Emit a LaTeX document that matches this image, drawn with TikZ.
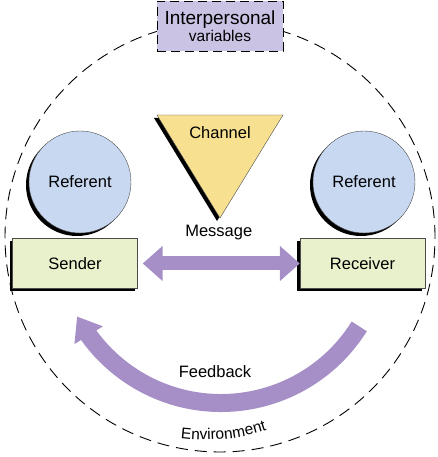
\documentclass[tikz,border=0pt]{standalone}
\usepackage{fontspec}
\setmainfont{Liberation Sans}
\usetikzlibrary{arrows.meta,bending,shadows,decorations.text}

\definecolor{lavender}{HTML}{CAC3E3}
\definecolor{arrowpurple}{HTML}{A68FC6}
\definecolor{referblue}{HTML}{C8D8F1}
\definecolor{partygreen}{HTML}{E8F0CC}
\definecolor{chanyellow}{HTML}{F7E191}

\begin{document}
\begin{tikzpicture}[x=1pt, y=1pt, font=\fontsize{16.5}{19}\selectfont,
  shad/.style={drop shadow={shadow xshift=-3pt, shadow yshift=-3pt, fill=black, opacity=1}},
  refer/.style={circle, shad, draw=black!70, fill=referblue, minimum size=102pt, inner sep=0pt},
  party/.style={rectangle, shad, draw=black!70, fill=partygreen, minimum width=125pt, minimum height=50pt, inner sep=0pt},
  wide/.style={draw=arrowpurple, line width=#1}]
  \useasboundingbox (0,0) rectangle (438,457);
  % environment
  \coordinate (envc) at (220,220);
  \draw[dash pattern=on 12pt off 7pt, line width=0.9pt] (envc) circle[radius=215];
  \node (interp) [draw, dash pattern=on 9pt off 5pt, fill=lavender, minimum width=126pt, minimum height=50pt, inner sep=0pt, align=center] at (220,431)
    {{\fontsize{19}{21}\selectfont Interpersonal}\\[-2pt]{\fontsize{15.5}{17}\selectfont variables}};
  % channel
  \draw[shad, draw=black!70, fill=chanyellow] (157,342) -- (283,342) -- (220,239) -- cycle;
  \node (chan) at (220,324) {Channel};
  % the two parties
  \node (sref) [refer] at (80,275) {Referent};
  \node (rref) [refer] at (364,275) {Referent};
  \node (send) [party] at (75,193.5) {Sender};
  \node (recv) [party] at (362.5,193.5) {Receiver};
  % message
  \draw[wide=14pt, {Triangle[width=34pt,length=20pt]}-{Triangle[width=34pt,length=20pt]}, shorten <=5pt]
    (send) -- (recv) node (msg) [midway, above=13pt] {Message};
  % feedback
  \coordinate (fbc) at (221,217);
  \path (fbc) ++(-32:163) coordinate (fbs);
  \draw[wide=18pt, -{Triangle[width=32pt,length=22pt]}] (fbs) arc[start angle=-32, end angle=-152, radius=163];
  \node (fb) at (215,85) {Feedback};
  \path[decorate, decoration={text along path, text align=center, text={|\fontsize{15.5}{18}\selectfont|Environment}}]
    (205,217) ++(-98:200) arc[start angle=-98, end angle=-71, radius=200];
\end{tikzpicture}
\end{document}
